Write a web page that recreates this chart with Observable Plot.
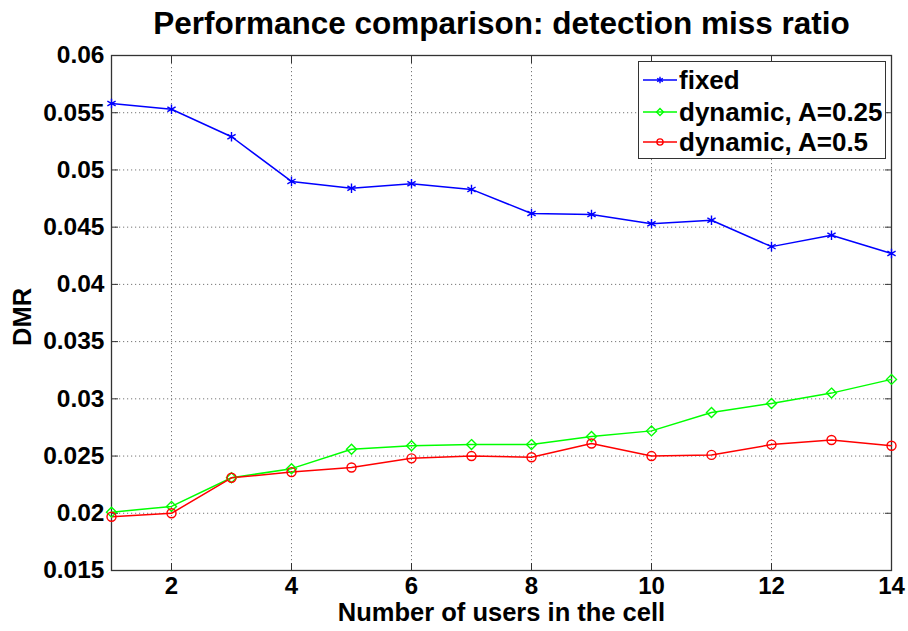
<!DOCTYPE html>
<html>
<head>
<meta charset="utf-8">
<script src="https://cdn.jsdelivr.net/npm/d3@7"></script>
<script src="https://cdn.jsdelivr.net/npm/@observablehq/plot@0.6"></script>
<style>
  html, body { margin: 0; padding: 0; background: #fff; }
  #wrap { position: relative; width: 908px; height: 631px; font-family: "Liberation Sans", Arial, sans-serif; }
  #legend { position: absolute; left: 638px; top: 61px; width: 246px; height: 96px; border: 1.5px solid #333; background: #fff; box-sizing: content-box; }
  .row { position: absolute; left: 0; height: 30px; display: flex; align-items: center; }
  .row svg { margin-left: 4px; }
  .row span { font-weight: bold; font-size: 26px; color: #000; margin-left: 2px; white-space: nowrap; }
</style>
</head>
<body>
<div id="wrap"></div>
<script>
const users = [1, 2, 3, 4, 5, 6, 7, 8, 9, 10, 11, 12, 13, 14];
const fixed = [0.0558, 0.0553, 0.0529, 0.0490, 0.0484, 0.0488, 0.0483, 0.0462, 0.0461, 0.0453, 0.0456, 0.0433, 0.0443, 0.0427];
const dyn025 = [0.0201, 0.0206, 0.0231, 0.0239, 0.0256, 0.0259, 0.0260, 0.0260, 0.0267, 0.0272, 0.0288, 0.0296, 0.0305, 0.0317];
const dyn05 = [0.0197, 0.0200, 0.0231, 0.0236, 0.0240, 0.0248, 0.0250, 0.0249, 0.0261, 0.0250, 0.0251, 0.0260, 0.0264, 0.0259];
const seriesNames = ["fixed", "dynamic, A=0.25", "dynamic, A=0.5"];
const seriesColors = ["#0000ff", "#00ff00", "#ff0000"];
const seriesSymbols = ["asterisk", "diamond2", "circle"];
const xTicks = [2, 4, 6, 8, 10, 12, 14];
const yTicks = [0.015, 0.02, 0.025, 0.03, 0.035, 0.04, 0.045, 0.05, 0.055, 0.06];
const yTickLabels = ["0.015", "0.02", "0.025", "0.03", "0.035", "0.04", "0.045", "0.05", "0.055", "0.06"];
const title = "Performance comparison: detection miss ratio";
const xLabel = "Number of users in the cell";
const yLabel = "DMR";

const seriesValues = [fixed, dyn025, dyn05];
const data = [];
seriesValues.forEach((vals, s) => vals.forEach((v, i) => data.push({x: users[i], y: v, s: seriesNames[s]})));

const font = "Liberation Sans, Arial, sans-serif";
const chart = Plot.plot({
  width: 908,
  height: 631,
  marginLeft: 111,
  marginRight: 17,
  marginTop: 55,
  marginBottom: 61,
  style: {fontFamily: font, color: "#000", background: "#fff"},
  x: {domain: [1, 14]},
  y: {domain: [0.015, 0.06]},
  color: {domain: seriesNames, range: seriesColors},
  symbol: {domain: seriesNames, range: seriesSymbols},
  marks: [
    Plot.gridX(xTicks, {stroke: "#777", strokeOpacity: 1, strokeDasharray: "1.2,2.8", strokeWidth: 1}),
    Plot.gridY(yTicks, {stroke: "#777", strokeOpacity: 1, strokeDasharray: "1.2,2.8", strokeWidth: 1}),
    Plot.axisX(xTicks, {anchor: "bottom", tickSize: -7, tickPadding: 13, fontSize: 24, fontWeight: "bold", label: null, stroke: "#333"}),
    Plot.axisX(xTicks, {anchor: "top", tickSize: -7, text: null, label: null, stroke: "#333"}),
    Plot.axisY(yTicks, {anchor: "left", tickSize: -7, tickPadding: 14, fontSize: 24.5, fontWeight: "bold", label: null, stroke: "#333",
      tickFormat: (d) => yTickLabels[yTicks.indexOf(d)]}),
    Plot.axisY(yTicks, {anchor: "right", tickSize: -7, text: null, label: null, stroke: "#333"}),
    Plot.frame({stroke: "#333", strokeWidth: 1.3}),
    Plot.line(data, {x: "x", y: "y", z: "s", stroke: "s", strokeWidth: 1.5}),
    Plot.dot(data, {x: "x", y: "y", stroke: "s", symbol: "s", r: 4.5, strokeWidth: 1.4, fill: "none"}),
    Plot.text([title], {frameAnchor: "top", lineAnchor: "middle", dy: -32, fontSize: 31.5, fontWeight: "bold", fill: "#000"}),
    Plot.text([xLabel], {frameAnchor: "bottom", lineAnchor: "middle", dy: 42, fontSize: 25.5, fontWeight: "bold", fill: "#000"}),
    Plot.text([yLabel], {frameAnchor: "left", textAnchor: "middle", lineAnchor: "middle", dx: -89, dy: 4, rotate: -90, fontSize: 25.5, fontWeight: "bold", fill: "#000"})
  ]
});
const wrap = document.getElementById("wrap");
wrap.appendChild(chart);

// legend overlay
const legend = document.createElement("div");
legend.id = "legend";
const rowTops = [3, 35, 65];
seriesNames.forEach((name, i) => {
  const row = document.createElement("div");
  row.className = "row";
  row.style.top = rowTops[i] + "px";
  const ns = "http://www.w3.org/2000/svg";
  const svg = document.createElementNS(ns, "svg");
  svg.setAttribute("width", 34); svg.setAttribute("height", 30);
  const line = document.createElementNS(ns, "line");
  line.setAttribute("x1", 0); line.setAttribute("x2", 34); line.setAttribute("y1", 15); line.setAttribute("y2", 15);
  line.setAttribute("stroke", seriesColors[i]); line.setAttribute("stroke-width", 1.5);
  svg.appendChild(line);
  const path = document.createElementNS(ns, "path");
  const symType = {asterisk: d3.symbolAsterisk, diamond2: d3.symbolDiamond2, circle: d3.symbolCircle}[seriesSymbols[i]];
  path.setAttribute("d", d3.symbol(symType, 30)());
  path.setAttribute("transform", "translate(17,15)");
  path.setAttribute("fill", "none"); path.setAttribute("stroke", seriesColors[i]); path.setAttribute("stroke-width", 1.4);
  svg.appendChild(path);
  row.appendChild(svg);
  const sp = document.createElement("span");
  sp.textContent = name;
  row.appendChild(sp);
  legend.appendChild(row);
});
wrap.appendChild(legend);
</script>
</body>
</html>
